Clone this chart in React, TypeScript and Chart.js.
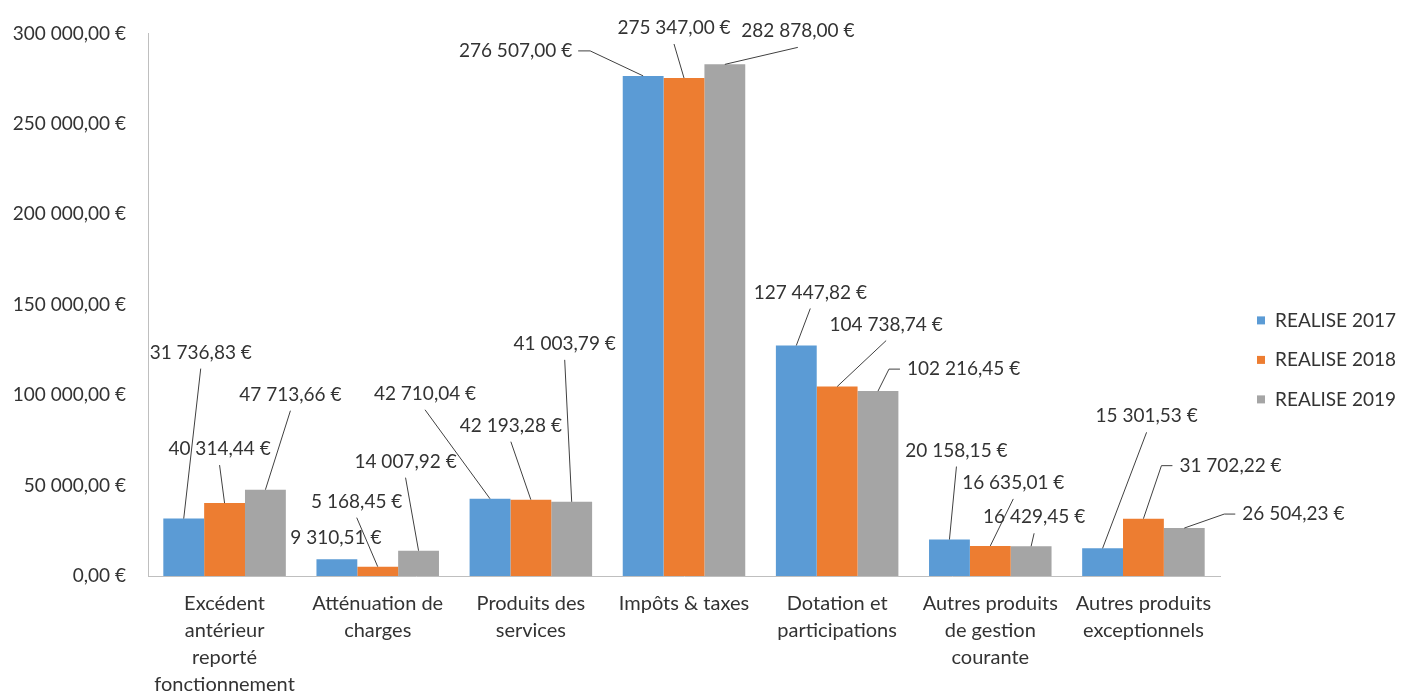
import React, { useEffect, useRef } from "react";
import { Chart, registerables } from "chart.js";

Chart.register(...registerables);

// ---------- data ----------
const CATEGORIES: string[][] = [
  ["Excédent", "antérieur", "reporté", "fonctionnement"],
  ["Atténuation de", "charges"],
  ["Produits des", "services"],
  ["Impôts & taxes"],
  ["Dotation et", "participations"],
  ["Autres produits", "de gestion", "courante"],
  ["Autres produits", "exceptionnels"],
];
const SERIES_NAMES = ["REALISE 2017", "REALISE 2018", "REALISE 2019"];
const REALISE_2017 = [31736.83, 9310.51, 42710.04, 276507.0, 127447.82, 20158.15, 15301.53];
const REALISE_2018 = [40314.44, 5168.45, 42193.28, 275347.0, 104738.74, 16635.01, 31702.22];
const REALISE_2019 = [47713.66, 14007.92, 41003.79, 282878.0, 102216.45, 16429.45, 26504.23];
const Y_TICKS = [0, 50000, 100000, 150000, 200000, 250000, 300000];

// ---------- style ----------
const COLORS = ["#5B9BD5", "#ED7D31", "#A5A5A5"];
const TEXT = "#333333";
const LEADER = "#404040";
const AXIS = "#BFBFBF";
const FONT_FAMILY = "Lato";
const FONT_SIZE = 19;
const CAT_FONT_SIZE = 20;

// callout placement per label: [dx, dy, kind] relative to bar top centre
// kind: b = leader from label bottom, l = elbow on left (dx = text left),
//       r = elbow on right (dx = text right), n = no leader
const LABEL_LAYOUT: [number, number, string][][] = [
  [[17, -166, "b"], [-1, -21, "n"], [-65, -105, "b"], [-71, -25, "r"], [14, -53, "b"], [7, -89, "b"], [44, -132, "b"]],
  [[-5, -54, "b"], [-21, -65, "b"], [-20, -74, "b"], [-10, -50, "b"], [49, -62, "b"], [23, -63, "b"], [36, -53, "l"]],
  [[25, -95, "b"], [-13, -89, "b"], [-7, -158, "b"], [73, -33, "b"], [29, -22, "l"], [3, -29, "b"], [58, -14, "l"]],
];

function fmtEuro(v: number): string {
  const [i, d] = v.toFixed(2).split(".");
  return i.replace(/\B(?=(\d{3})+(?!\d))/g, " ") + "," + d + " €";
}

const calloutPlugin = {
  id: "callouts",
  afterDatasetsDraw(chart: any) {
    const ctx = chart.ctx as CanvasRenderingContext2D;
    ctx.save();
    ctx.font = `${FONT_SIZE}px ${FONT_FAMILY}`;
    ctx.fillStyle = TEXT;
    ctx.strokeStyle = LEADER;
    ctx.lineWidth = 1;
    ctx.textBaseline = "middle";
    chart.data.datasets.forEach((ds: any, di: number) => {
      const meta = chart.getDatasetMeta(di);
      meta.data.forEach((bar: any, i: number) => {
        const [dx, dy, kind] = LABEL_LAYOUT[di][i];
        const text = fmtEuro(ds.data[i]);
        const w = ctx.measureText(text).width;
        const bx = bar.x;
        const by = bar.y;
        const cy = by + dy;
        let tx: number;
        ctx.beginPath();
        if (kind === "l") {
          tx = bx + dx;
          ctx.moveTo(tx - 7, cy);
          ctx.lineTo(tx - 18, cy);
          ctx.lineTo(bx, by);
          ctx.stroke();
        } else if (kind === "r") {
          tx = bx + dx - w;
          ctx.moveTo(tx + w + 6, cy);
          ctx.lineTo(tx + w + 18, cy);
          ctx.lineTo(bx, by);
          ctx.stroke();
        } else {
          const cx = bx + dx;
          tx = cx - w / 2;
          if (kind === "b") {
            ctx.moveTo(cx, cy + 16);
            ctx.lineTo(bx, by);
            ctx.stroke();
          }
        }
        ctx.textAlign = "left";
        ctx.fillText(text, tx, cy);
      });
    });
    ctx.restore();
  },
  afterDraw(chart: any) {
    const ctx = chart.ctx as CanvasRenderingContext2D;
    const area = chart.chartArea;
    ctx.save();
    ctx.font = `${FONT_SIZE}px ${FONT_FAMILY}`;
    ctx.textBaseline = "middle";
    ctx.textAlign = "left";
    chart.data.datasets.forEach((ds: any, di: number) => {
      const y = area.top + 287 + di * 39.5;
      const x = area.right + 37;
      ctx.fillStyle = ds.backgroundColor;
      ctx.fillRect(x, y - 4, 8, 8);
      ctx.fillStyle = TEXT;
      ctx.fillText(ds.label, x + 18, y);
    });
    ctx.restore();
  },
};

export default function App() {
  const ref = useRef<HTMLCanvasElement | null>(null);
  useEffect(() => {
    if (!ref.current) return;
    const seriesValues = [REALISE_2017, REALISE_2018, REALISE_2019];
    const chart = new Chart(ref.current, {
      type: "bar",
      data: {
        labels: CATEGORIES,
        datasets: SERIES_NAMES.map((name, i) => ({
          label: name,
          data: seriesValues[i],
          backgroundColor: COLORS[i],
          borderWidth: 0,
          categoryPercentage: 0.8,
          barPercentage: 1.0,
        })),
      },
      options: {
        animation: false,
        responsive: false,
        devicePixelRatio: 1,
        layout: { padding: { top: 28, right: 192, left: 0, bottom: 0 } },
        plugins: {
          legend: { display: false },
          tooltip: { enabled: false },
        },
        scales: {
          x: {
            grid: { display: false, drawTicks: false },
            border: { display: true, color: AXIS, width: 1 },
            ticks: {
              color: TEXT,
              font: { family: FONT_FAMILY, size: CAT_FONT_SIZE, lineHeight: 1.35 },
              padding: 14,
              maxRotation: 0,
              autoSkip: false,
            },
            afterFit: (s: any) => {
              s.height = 117;
            },
          },
          y: {
            min: 0,
            max: 300000,
            grid: { display: false, drawTicks: false },
            border: { display: true, color: AXIS, width: 1 },
            afterBuildTicks: (s: any) => {
              s.ticks = Y_TICKS.map((v) => ({ value: v }));
            },
            ticks: {
              color: TEXT,
              font: { family: FONT_FAMILY, size: FONT_SIZE },
              padding: 22,
              callback: (v: any) => fmtEuro(Number(v)),
            },
            afterFit: (s: any) => {
              s.width = 148;
            },
          },
        },
      },
      plugins: [calloutPlugin],
    });
    return () => chart.destroy();
  }, []);
  return (
    <div style={{ position: "fixed", left: 0, top: 0, width: 1412, height: 693, background: "#fff" }}>
      <canvas ref={ref} width={1412} height={693} style={{ display: "block" }} />
    </div>
  );
}
